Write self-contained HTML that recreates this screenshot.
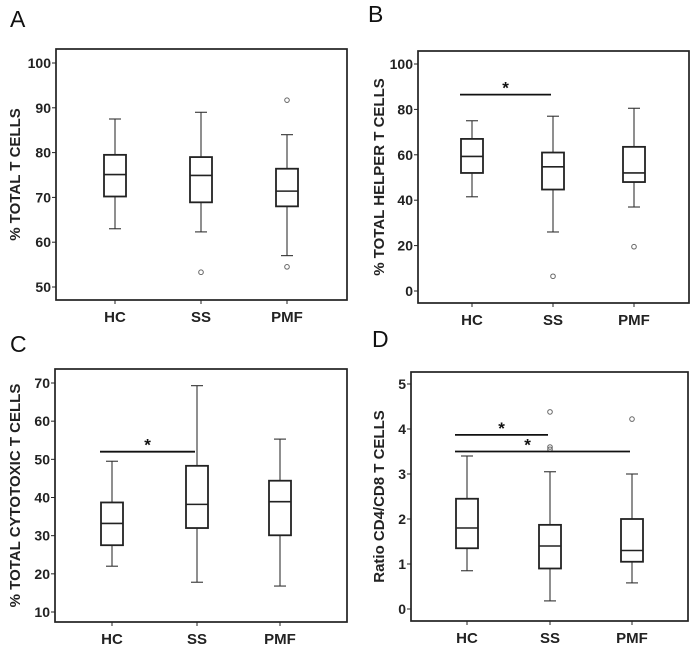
<!DOCTYPE html>
<html><head><meta charset="utf-8"><style>
body{margin:0;background:#fff;}
svg{display:block;font-family:"Liberation Sans",Arial,sans-serif;}
</style></head><body>
<svg id="fig" width="700" height="650" viewBox="0 0 700 650" xmlns="http://www.w3.org/2000/svg"></svg>
<script>
const categories = ["HC","SS","PMF"];
// Panel A
const aLow = [63, 62.3, 57], aQ1 = [70.2, 68.9, 68], aMed = [75.1, 74.9, 71.4], aQ3 = [79.5, 79, 76.4], aHigh = [87.5, 89, 84];
const aOutliers = [[], [53.3], [91.7, 54.5]];
const aTicks = [50, 60, 70, 80, 90, 100];
// Panel B
const bLow = [41.5, 26, 37], bQ1 = [52, 44.7, 48], bMed = [59.3, 54.7, 52], bQ3 = [67, 61, 63.5], bHigh = [75, 77, 80.5];
const bOutliers = [[], [6.5], [19.5]];
const bTicks = [0, 20, 40, 60, 80, 100];
const bSig = [[0, 1, 86.5]];
// Panel C
const cLow = [22, 17.8, 16.8], cQ1 = [27.5, 32, 30.1], cMed = [33.2, 38.2, 38.9], cQ3 = [38.7, 48.3, 44.4], cHigh = [49.5, 69.3, 55.3];
const cOutliers = [[], [], []];
const cTicks = [10, 20, 30, 40, 50, 60, 70];
const cSig = [[0, 1, 52]];
// Panel D
const dLow = [0.85, 0.18, 0.58], dQ1 = [1.35, 0.9, 1.05], dMed = [1.8, 1.4, 1.3], dQ3 = [2.45, 1.87, 2.0], dHigh = [3.4, 3.05, 3.0];
const dOutliers = [[], [4.38, 3.6, 3.55], [4.22]];
const dTicks = [0, 1, 2, 3, 4, 5];
const dSig = [[0, 1, 3.87], [0, 2, 3.5]];

const NS = "http://www.w3.org/2000/svg";
const fig = document.getElementById("fig");
function mk(tag, attrs, parent, text){
  const e = document.createElementNS(NS, tag);
  for (const k in attrs) e.setAttribute(k, attrs[k]);
  if (text !== undefined) e.textContent = text;
  parent.appendChild(e);
  return e;
}
function panel(p){
  const g = mk("g", {}, fig);
  
  
  const y = v => p.y0 + (v - p.t0) * (p.y1 - p.y0) / (p.t1 - p.t0);
  const x = i => p.xs[i];
  const lt = mk("text", {x: p.lx, y: p.ly, "font-size": 23, fill: "#111"}, g, p.id);
  
  
  const fr = mk("rect", {x: p.fl, y: p.ft, width: p.fr - p.fl, height: p.fb - p.ft, fill: "none", stroke: "#222", "stroke-width": 1.7}, g);
  
  
  p.ticks.forEach(t => {
    const tl = mk("line", {x1: p.fl - 4, x2: p.fl, y1: y(t), y2: y(t), stroke: "#222", "stroke-width": 1}, g);
    
    
    const tx = mk("text", {x: p.fl - 5, y: y(t) + 5, "font-size": 14, "font-weight": "bold", "text-anchor": "end", fill: "#222"}, g, String(t));
    
    
  });
  const cy = (p.ft + p.fb) / 2;
  const yt = mk("text", {x: p.tx, y: cy, "font-size": 15, "font-weight": "bold", "text-anchor": "middle", fill: "#222", transform: "rotate(-90 " + p.tx + " " + cy + ")"}, g, p.title);
  
  
  categories.forEach((c, i) => {
    const xl = mk("line", {x1: x(i), x2: x(i), y1: p.fb, y2: p.fb + 4, stroke: "#222"}, g);
    
    
    const ct = mk("text", {x: x(i), y: p.fb + 22, "font-size": 15, "font-weight": "bold", "text-anchor": "middle", fill: "#222"}, g, c);
    
    
    const bg = mk("g", {}, g);
    
    
    const w = 11, cw = 6;
    mk("line", {x1: x(i), x2: x(i), y1: y(p.low[i]), y2: y(p.q1[i]), stroke: "#333", "stroke-width": 1.1}, bg);
    mk("line", {x1: x(i), x2: x(i), y1: y(p.q3[i]), y2: y(p.high[i]), stroke: "#333", "stroke-width": 1.1}, bg);
    mk("line", {x1: x(i) - cw, x2: x(i) + cw, y1: y(p.low[i]), y2: y(p.low[i]), stroke: "#333", "stroke-width": 1.1}, bg);
    mk("line", {x1: x(i) - cw, x2: x(i) + cw, y1: y(p.high[i]), y2: y(p.high[i]), stroke: "#333", "stroke-width": 1.1}, bg);
    mk("rect", {x: x(i) - w, y: y(p.q3[i]), width: 2 * w, height: y(p.q1[i]) - y(p.q3[i]), fill: "#fff", stroke: "#222", "stroke-width": 1.8}, bg);
    mk("line", {x1: x(i) - w, x2: x(i) + w, y1: y(p.med[i]), y2: y(p.med[i]), stroke: "#222", "stroke-width": 1.6}, bg);
    p.out[i].forEach(v => {
      const o = mk("circle", {cx: x(i), cy: y(v), r: 2.3, fill: "none", stroke: "#666", "stroke-width": 1}, g);
      
      
    });
  });
  (p.sig || []).forEach(s => {
    const x1 = x(s[0]) - 12, x2 = x(s[1]) - 2;
    const sl = mk("line", {x1: x1, x2: x2, y1: y(s[2]), y2: y(s[2]), stroke: "#111", "stroke-width": 1.8}, g);
    
    
    const st = mk("text", {x: (x1 + x2) / 2 + (s[1] === 2 ? -15 : 0), y: y(s[2]) - 1, "font-size": 17, "font-weight": "bold", "text-anchor": "middle", fill: "#111"}, g, "*");
    
    
  });
}
panel({id: "A", lx: 10, ly: 27, fl: 56, fr: 347, ft: 49, fb: 300, t0: 50, t1: 100, y0: 287, y1: 63, xs: [115, 201, 287], ticks: aTicks, tx: 20, title: "% TOTAL T CELLS", low: aLow, q1: aQ1, med: aMed, q3: aQ3, high: aHigh, out: aOutliers});
panel({id: "B", lx: 368, ly: 22, fl: 418, fr: 689, ft: 51, fb: 303, t0: 0, t1: 100, y0: 291, y1: 64, xs: [472, 553, 634], ticks: bTicks, tx: 384, title: "% TOTAL HELPER T CELLS", low: bLow, q1: bQ1, med: bMed, q3: bQ3, high: bHigh, out: bOutliers, sig: bSig});
panel({id: "C", lx: 10, ly: 352, fl: 55, fr: 347, ft: 369, fb: 622, t0: 10, t1: 70, y0: 612, y1: 383, xs: [112, 197, 280], ticks: cTicks, tx: 20, title: "% TOTAL CYTOTOXIC T CELLS", low: cLow, q1: cQ1, med: cMed, q3: cQ3, high: cHigh, out: cOutliers, sig: cSig});
panel({id: "D", lx: 372, ly: 347, fl: 411, fr: 688, ft: 372, fb: 621, t0: 0, t1: 5, y0: 609, y1: 384, xs: [467, 550, 632], ticks: dTicks, tx: 384, title: "Ratio CD4/CD8 T CELLS", low: dLow, q1: dQ1, med: dMed, q3: dQ3, high: dHigh, out: dOutliers, sig: dSig});
</script>
</body></html>
